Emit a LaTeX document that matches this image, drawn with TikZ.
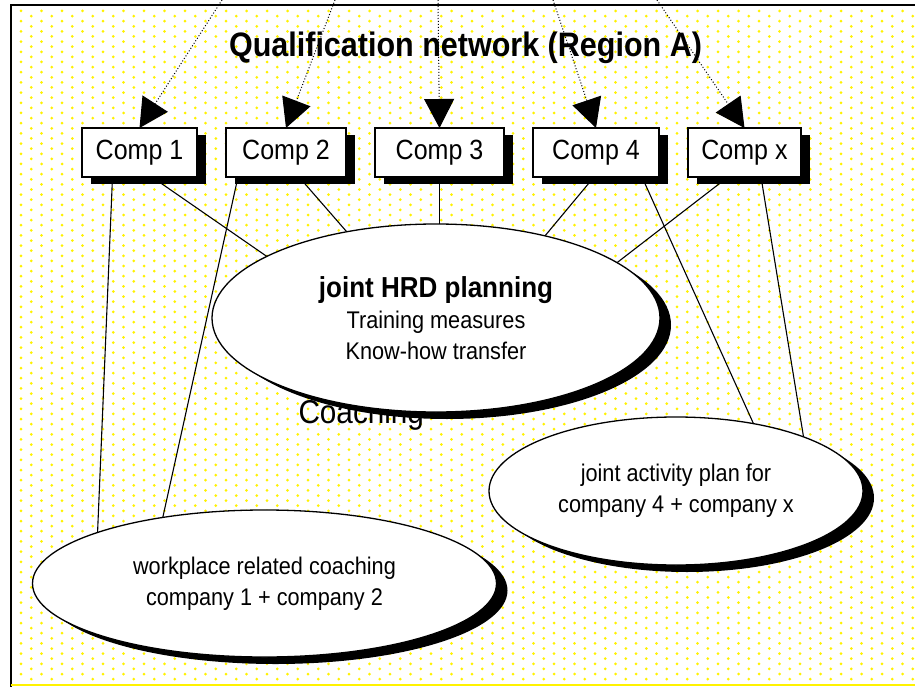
\documentclass[tikz,border=0pt]{standalone}
\usepackage{fontspec}
\setmainfont{Liberation Sans}[FakeStretch=0.9]
\usetikzlibrary{arrows.meta,shapes,positioning,shadows,backgrounds}
\tikzstyle{compNode} = [shape = rectangle, draw, line width=1.3pt, fill=white, minimum height=49pt, inner sep=0pt, outer sep=0pt, font=\fontsize{27.8}{32}\selectfont, drop shadow={shadow xshift=9pt, shadow yshift=-7pt, fill=black, opacity=1}]
\tikzstyle{topicNode} = [shape = ellipse, draw, line width=1.3pt, fill=white, inner sep=0pt, outer sep=0pt, align=center, font=\fontsize{24.1}{31}\selectfont, drop shadow={shadow xshift=11pt, shadow yshift=-7pt, fill=black, opacity=1}]
\tikzstyle{link} = [line width=1.1pt]
\tikzstyle{feedArrow} = [dotted, line width=1pt, -{Triangle[length=29pt, width=30pt]}]

\begin{document}
\begin{tikzpicture}[x=1pt, y=-1pt]
\useasboundingbox (0,0) rectangle (915,687);
% dotted yellow paper
\begin{scope}[on background layer]
  \fill[white] (0,0) rectangle (915,687);
  \foreach \r in {0,...,131} {
    \foreach \c in {0,...,43} {
      \fill[yellow] ({21 + 20.5*\c + 10.25*mod(\r,2)}, {11 + 5.1*\r}) circle (1.5pt);
    }
  }
\end{scope}
\draw[line width=2pt] (11,687) -- (11,5) -- (915,5);
\draw[yellow, line width=2pt] (11,685) -- (915,685);

\node (title) [anchor=base, font=\fontsize{33.9}{38}\selectfont\bfseries] at (465.5,57) {Qualification network (Region A)};

% companies
\node (c1) [compNode, minimum width=115pt] at (139.5,152.5) {Comp 1};
\node (c2) [compNode, minimum width=120pt, right = 29pt of c1] {Comp 2};
\node (c3) [compNode, minimum width=129pt, right = 29pt of c2] {Comp 3};
\node (c4) [compNode, minimum width=126pt, right = 29pt of c3] {Comp 4};
\node (cx) [compNode, minimum width=113pt, right = 29pt of c4] {Comp x};

\node (coachText) [anchor=base west, font=\fontsize{33}{38}\selectfont] at (295,423) {Coaching};

% activities
\node (coach) [topicNode, minimum width=464pt, minimum height=147pt] at (264.5,583.5) {workplace related coaching\\company 1 + company 2};
\node (act) [topicNode, minimum width=374pt, minimum height=148pt] at (676,491) {joint activity plan for\\company 4 + company x};
\node (hrd) [topicNode, minimum width=448pt, minimum height=188pt] at (436,318) {{\fontsize{28.9}{31}\selectfont\bfseries joint HRD planning}\\Training measures\\Know-how transfer};

\begin{scope}[on background layer]
  \draw[link] ([xshift=12.5pt]c1.south) -- (hrd.160);
  \draw[link] ([xshift=-27pt]c1.south) -- (coach.163);
  \draw[link] ([xshift=-48pt]c2.south) -- (coach.147);
  \draw[link] ([xshift=13pt]c2.south) -- (hrd.136);
  \draw[link] (c3.south) -- (c3.south |- hrd.north);
  \draw[link] ([xshift=-2pt]c4.south) -- (hrd.37);
  \draw[link] ([xshift=46pt]c4.south) -- (act.41);
  \draw[link] ([xshift=-16.5pt]cx.south) -- (hrd.17);
  \draw[link] ([xshift=16.5pt]cx.south) -- (act.23);
\end{scope}

% inputs from above
\coordinate (src1) at (222,0);
\coordinate (src2) at (335,0);
\coordinate (src3) at (438,0);
\coordinate (src4) at (553,0);
\coordinate (src5) at (657,0);
\draw[feedArrow] (src1) -- (c1.north);
\draw[feedArrow] (src2) -- (c2.north);
\draw[feedArrow] (src3) -- (c3.north);
\draw[feedArrow] (src4) -- (c4.north);
\draw[feedArrow] (src5) -- (cx.north);
\end{tikzpicture}
\end{document}
